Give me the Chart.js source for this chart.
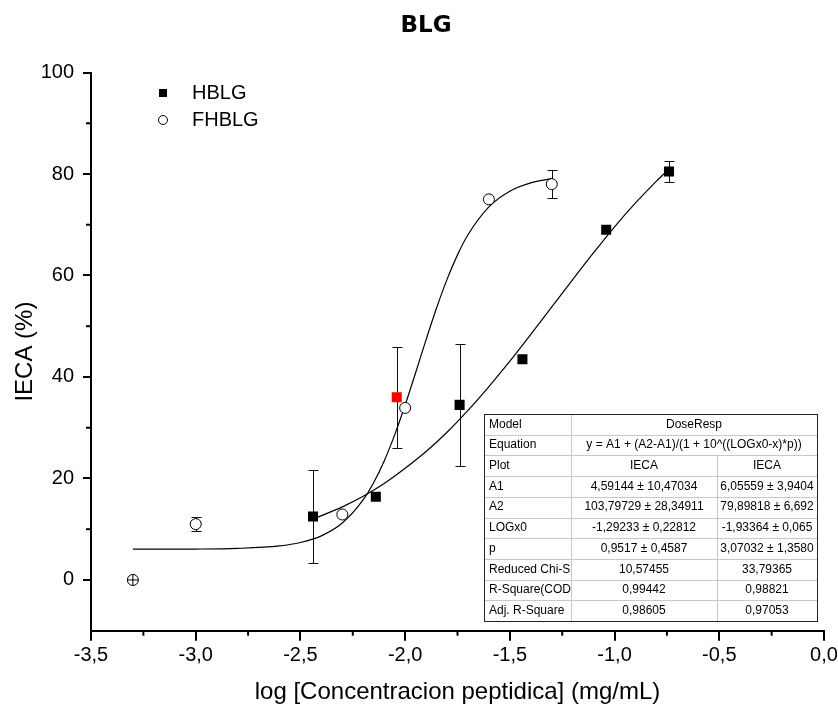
<!DOCTYPE html>
<html>
<head>
<meta charset="utf-8">
<script src="https://cdn.jsdelivr.net/npm/chart.js@4.4.1/dist/chart.umd.min.js"></script>
<style>
  html, body { margin: 0; padding: 0; background: #fff; overflow: hidden; }
  canvas { display: block; }
</style>
</head>
<body>
<canvas id="c" width="838" height="713"></canvas>
<script>
// ---- data ----
const chartTitle = 'BLG';
const xTitle = 'log [Concentracion peptidica] (mg/mL)';
const yTitle = 'IECA (%)';
const xTicks = [-3.5, -3.0, -2.5, -2.0, -1.5, -1.0, -0.5, 0.0];
const xMinorTicks = [-3.25, -2.75, -2.25, -1.75, -1.25, -0.75, -0.25];
const yTicks = [0, 20, 40, 60, 80, 100];
const yMinorTicks = [10, 30, 50, 70, 90];

const hblgX   = [-2.44, -2.14, -2.04, -1.74, -1.44, -1.04, -0.74];
const hblgY   = [12.5, 16.4, 36.0, 34.5, 43.5, 69.0, 80.5];
const hblgErr = [9.2, 0, 9.9, 12.0, 0, 0, 2.1];
const hblgColors = ['#000', '#000', '#ff0000', '#000', '#000', '#000', '#000'];

const fhblgX   = [-3.3, -3.0, -2.3, -2.0, -1.6, -1.3];
const fhblgY   = [0, 11.0, 12.9, 33.9, 75.0, 78.0];
const fhblgErr = [0, 1.4, 0, 0, 0, 2.8];

// fitted DoseResp curves
const hblgFitX = [-2.44, -2.3, -2.2, -2.1, -2.0, -1.9, -1.8, -1.7, -1.6, -1.5, -1.4, -1.3, -1.2, -1.1, -1.0, -0.9, -0.8, -0.74];
const hblgFitY = [12.0, 14.4, 16.5, 19.0, 22.0, 25.3, 29.1, 33.4, 38.1, 43.1, 48.4, 53.8, 59.2, 64.5, 69.6, 74.3, 78.6, 81.0];
const fhblgFitX = [-3.3, -3.0, -2.8, -2.6, -2.5, -2.4, -2.3, -2.2, -2.15, -2.1, -2.05, -2.0, -1.95, -1.9, -1.85, -1.8, -1.75, -1.7, -1.6, -1.5, -1.4, -1.3];
const fhblgFitY = [6.06, 6.09, 6.22, 6.71, 7.38, 8.69, 11.21, 15.81, 19.20, 23.46, 28.59, 34.47, 40.84, 47.35, 53.59, 59.23, 64.06, 68.02, 73.52, 76.61, 78.24, 79.07];

const legendLabels = ['HBLG', 'FHBLG'];

const tableRows = [
  ['Model', 'DoseResp'],
  ['Equation', 'y = A1 + (A2-A1)/(1 + 10^((LOGx0-x)*p))'],
  ['Plot', 'IECA', 'IECA'],
  ['A1', '4,59144 \u00b1 10,47034', '6,05559 \u00b1 3,9404'],
  ['A2', '103,79729 \u00b1 28,34911', '79,89818 \u00b1 6,692'],
  ['LOGx0', '-1,29233 \u00b1 0,22812', '-1,93364 \u00b1 0,065'],
  ['p', '0,9517 \u00b1 0,4587', '3,07032 \u00b1 1,3580'],
  ['Reduced Chi-S', '10,57455', '33,79365'],
  ['R-Square(COD', '0,99442', '0,98821'],
  ['Adj. R-Square', '0,98605', '0,97053']
];

const pts = (xs, ys) => xs.map((v, i) => ({ x: v, y: ys[i] }));
const fmt = v => Number(v).toFixed(1).replace('.', ',');
const FONT = '"Liberation Sans", Arial, sans-serif';

Chart.defaults.font.family = FONT;
Chart.defaults.color = '#000';

const errorBars = {
  id: 'errorBars',
  beforeDatasetsDraw(chart) {
    const { ctx, scales: { x, y } } = chart;
    ctx.save();
    ctx.strokeStyle = '#111';
    ctx.lineWidth = 1;
    chart.data.datasets.forEach(ds => {
      if (!ds.errors) return;
      ds.data.forEach((p, i) => {
        const e = ds.errors[i];
        if (!e) return;
        const px = Math.round(x.getPixelForValue(p.x)) + 0.5;
        const y1 = Math.round(y.getPixelForValue(p.y + e)) + 0.5;
        const y2 = Math.round(y.getPixelForValue(p.y - e)) + 0.5;
        ctx.beginPath();
        ctx.moveTo(px, y1); ctx.lineTo(px, y2);
        ctx.moveTo(px - 5, y1); ctx.lineTo(px + 5, y1);
        ctx.moveTo(px - 5, y2); ctx.lineTo(px + 5, y2);
        ctx.stroke();
      });
    });
    ctx.restore();
  }
};

const extras = {
  id: 'extras',
  afterDraw(chart) {
    const { ctx, scales: { x, y }, chartArea } = chart;
    ctx.save();
    // minor ticks
    ctx.strokeStyle = '#000';
    ctx.lineWidth = 2;
    xMinorTicks.forEach(v => {
      const px = x.getPixelForValue(v);
      ctx.beginPath();
      ctx.moveTo(px, chartArea.bottom);
      ctx.lineTo(px, chartArea.bottom + 5);
      ctx.stroke();
    });
    yMinorTicks.forEach(v => {
      const py = y.getPixelForValue(v);
      ctx.beginPath();
      ctx.moveTo(chartArea.left, py);
      ctx.lineTo(chartArea.left - 5, py);
      ctx.stroke();
    });

    // title
    ctx.fillStyle = '#000';
    ctx.font = 'bold 23px "DejaVu Sans", sans-serif';
    ctx.textAlign = 'center';
    ctx.textBaseline = 'alphabetic';
    ctx.fillText(chartTitle, 426, 32);

    // legend
    ctx.font = '20px ' + FONT;
    ctx.textAlign = 'left';
    ctx.textBaseline = 'middle';
    ctx.fillStyle = '#000';
    ctx.fillRect(159, 89, 8, 8);
    ctx.fillText(legendLabels[0], 192, 93);
    ctx.beginPath();
    ctx.arc(163, 120, 4.5, 0, Math.PI * 2);
    ctx.fillStyle = '#fff';
    ctx.fill();
    ctx.lineWidth = 1;
    ctx.strokeStyle = '#000';
    ctx.stroke();
    ctx.fillStyle = '#000';
    ctx.fillText(legendLabels[1], 192, 120);

    // results table
    const tx0 = 484, tx1 = 571, tx2 = 717, tx3 = 817;
    const ty0 = 414, rowH = 20.7;
    const ty1 = ty0 + rowH * tableRows.length;
    ctx.fillStyle = '#fff';
    ctx.fillRect(tx0, ty0, tx3 - tx0, ty1 - ty0);
    ctx.strokeStyle = '#c8c8c8';
    ctx.lineWidth = 1;
    ctx.beginPath();
    for (let r = 1; r < tableRows.length; r++) {
      const yy = Math.round(ty0 + r * rowH) + 0.5;
      ctx.moveTo(tx0, yy); ctx.lineTo(tx3, yy);
    }
    ctx.moveTo(tx1 + 0.5, ty0); ctx.lineTo(tx1 + 0.5, ty1);
    ctx.moveTo(tx2 + 0.5, Math.round(ty0 + 2 * rowH)); ctx.lineTo(tx2 + 0.5, ty1);
    ctx.stroke();
    ctx.strokeStyle = '#222';
    ctx.strokeRect(tx0 + 0.5, ty0 + 0.5, tx3 - tx0, Math.round(ty1 - ty0));
    ctx.fillStyle = '#000';
    ctx.font = '12px ' + FONT;
    ctx.textBaseline = 'middle';
    tableRows.forEach((row, r) => {
      const cy = ty0 + r * rowH + rowH / 2;
      ctx.textAlign = 'left';
      ctx.fillText(row[0], tx0 + 5, cy);
      ctx.textAlign = 'center';
      if (row.length === 2) {
        ctx.fillText(row[1], (tx1 + tx3) / 2, cy);
      } else {
        ctx.fillText(row[1], (tx1 + tx2) / 2, cy);
        ctx.fillText(row[2], (tx2 + tx3) / 2, cy);
      }
    });
    ctx.restore();
  }
};

new Chart(document.getElementById('c'), {
  type: 'scatter',
  data: {
    datasets: [
      {
        label: 'cross', data: pts([fhblgX[0]], [fhblgY[0]]),
        pointStyle: 'cross', pointRadius: 5.5, borderColor: '#000', borderWidth: 1,
        showLine: false, order: 0
      },
      {
        label: legendLabels[0], data: pts(hblgX, hblgY), errors: hblgErr,
        pointStyle: 'rect', pointRadius: 7.1, backgroundColor: hblgColors,
        borderColor: hblgColors, borderWidth: 0, showLine: false, order: 1
      },
      {
        label: legendLabels[1], data: pts(fhblgX, fhblgY), errors: fhblgErr,
        pointStyle: 'circle', pointRadius: 5.5, backgroundColor: '#fff',
        borderColor: '#000', borderWidth: 1, showLine: false, order: 2
      },
      {
        type: 'line', label: 'fitH', data: pts(hblgFitX, hblgFitY),
        borderColor: '#000', borderWidth: 1.2, pointRadius: 0, fill: false,
        cubicInterpolationMode: 'monotone', showLine: true, order: 3
      },
      {
        type: 'line', label: 'fitF', data: pts(fhblgFitX, fhblgFitY),
        borderColor: '#000', borderWidth: 1.2, pointRadius: 0, fill: false,
        cubicInterpolationMode: 'monotone', showLine: true, order: 4
      }
    ]
  },
  options: {
    responsive: false,
    animation: false,
    devicePixelRatio: 1,
    layout: { padding: { top: 72.5, right: 14, bottom: 0, left: 0 } },
    plugins: {
      legend: { display: false },
      tooltip: { enabled: false },
      title: { display: false }
    },
    scales: {
      x: {
        type: 'linear', position: 'bottom', min: -3.5, max: 0,
        afterBuildTicks: s => { s.ticks = xTicks.map(v => ({ value: v })); },
        afterFit: s => { s.paddingLeft = 0; s.paddingRight = 0; s.height = 82.3; },
        ticks: { callback: v => fmt(v), font: { size: 20 }, color: '#000', padding: 3, maxRotation: 0, autoSkip: false },
        grid: { display: true, drawOnChartArea: false, drawTicks: true, tickLength: 10, color: '#000', lineWidth: 2 },
        border: { display: true, color: '#000', width: 2 },
        title: { display: true, text: xTitle, font: { size: 24 }, color: '#000', padding: { top: 0, bottom: 6 } }
      },
      y: {
        type: 'linear', position: 'left', min: -10, max: 100,
        afterBuildTicks: s => { s.ticks = yTicks.map(v => ({ value: v })); },
        afterFit: s => { s.width = 91; s.paddingTop = 0; s.paddingBottom = 0; },
        ticks: { callback: v => String(v), font: { size: 20 }, color: '#000', padding: 9, autoSkip: false },
        grid: { display: true, drawOnChartArea: false, drawTicks: true, tickLength: 8, color: '#000', lineWidth: 2 },
        border: { display: true, color: '#000', width: 2 },
        title: { display: true, text: yTitle, font: { size: 24 }, color: '#000', padding: { top: 10.5, bottom: 0 } }
      }
    }
  },
  plugins: [errorBars, extras]
});
</script>
</body>
</html>
